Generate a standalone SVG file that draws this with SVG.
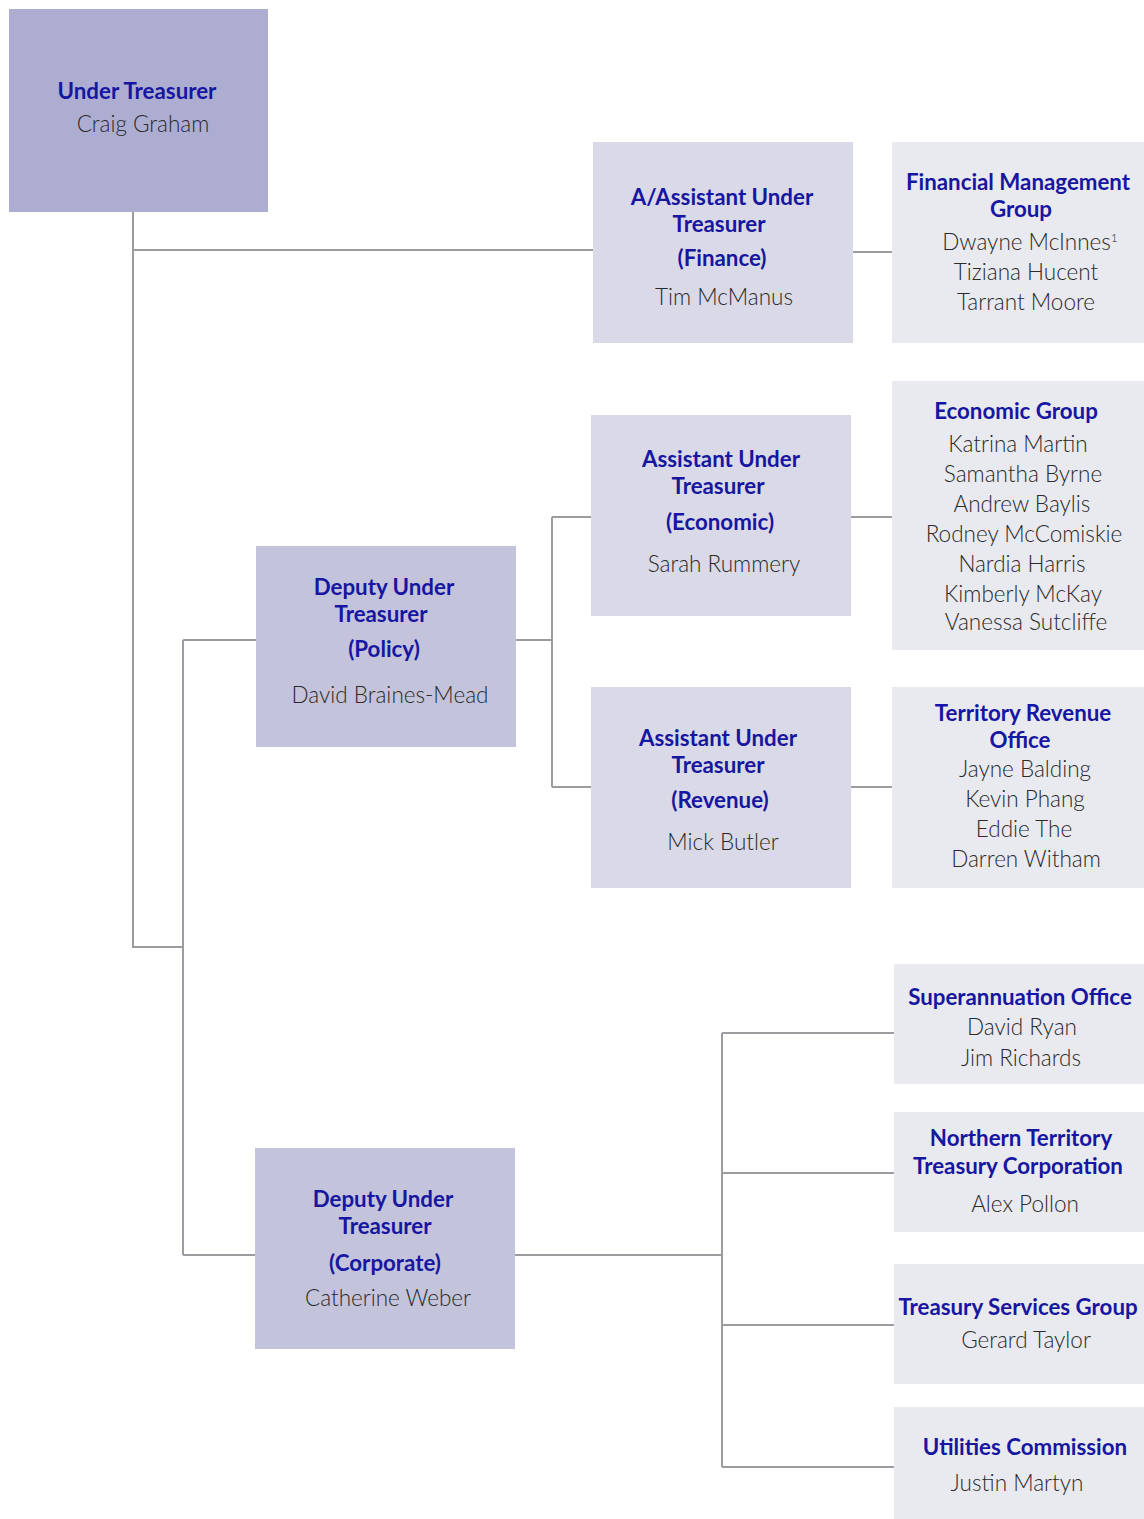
<svg xmlns="http://www.w3.org/2000/svg" width="1144" height="1519" viewBox="0 0 1144 1519">
<style>
.l1{fill:#ACADD0}.l2{fill:#C3C3DC}.l3{fill:#D9D9E7}.l4{fill:#E9E9F0}
text{font-family:Lato,"Noto Sans",sans-serif;text-anchor:middle}
.t{font-size:22.3px;font-weight:700;fill:#1616A0}
.n{font-size:22.5px;font-weight:300;fill:#2A2A2A}
#connectors path{fill:none;stroke:#9C9CA0;stroke-width:2}
</style>
<rect width="1144" height="1519" fill="#FFFFFF"/>
<g id="connectors">
<path d="M133 212V947H183"/>
<path d="M133 250H593"/>
<path d="M853 252H892"/>
<path d="M183 640V1255"/>
<path d="M183 640H256"/>
<path d="M516 640H552"/>
<path d="M552 517V787"/>
<path d="M552 517H591M552 787H591"/>
<path d="M851 517H892M851 787H892"/>
<path d="M183 1255H255"/>
<path d="M515 1255H722"/>
<path d="M722 1033V1467"/>
<path d="M722 1033H894M722 1173H894M722 1325H894M722 1467H894"/>
</g>
<g id="under-treasurer">
<rect class="l1" x="9" y="9" width="259" height="203"/>
<text class="t" x="137" y="99">Under Treasurer</text>
<text class="n" x="143" y="132">Craig Graham</text>
</g>
<g id="aut-finance">
<rect class="l3" x="593" y="142" width="260" height="201"/>
<text class="t" x="722" y="205">A/Assistant Under</text>
<text class="t" x="719" y="232">Treasurer</text>
<text class="t" x="722" y="266">(Finance)</text>
<text class="n" x="724" y="305">Tim McManus</text>
</g>
<g id="financial-management-group">
<rect class="l4" x="892" y="142" width="252" height="201"/>
<text class="t" x="1018" y="190">Financial Management</text>
<text class="t" x="1021" y="217">Group</text>
<text class="n" x="1030" y="250">Dwayne McInnes<tspan font-size="12" dy="-8">1</tspan></text>
<text class="n" x="1026" y="280">Tiziana Hucent</text>
<text class="n" x="1026" y="310">Tarrant Moore</text>
</g>
<g id="dut-policy">
<rect class="l2" x="256" y="546" width="260" height="201"/>
<text class="t" x="384" y="595">Deputy Under</text>
<text class="t" x="381" y="622">Treasurer</text>
<text class="t" x="384" y="657">(Policy)</text>
<text class="n" x="390" y="703">David Braines-Mead</text>
</g>
<g id="aut-economic">
<rect class="l3" x="591" y="415" width="260" height="201"/>
<text class="t" x="721" y="467">Assistant Under</text>
<text class="t" x="718" y="494">Treasurer</text>
<text class="t" x="720" y="530">(Economic)</text>
<text class="n" x="724" y="572">Sarah Rummery</text>
</g>
<g id="economic-group">
<rect class="l4" x="892" y="381" width="252" height="269"/>
<text class="t" x="1016" y="419">Economic Group</text>
<text class="n" x="1018" y="452">Katrina Martin</text>
<text class="n" x="1023" y="482">Samantha Byrne</text>
<text class="n" x="1022" y="512">Andrew Baylis</text>
<text class="n" x="1024" y="542">Rodney McComiskie</text>
<text class="n" x="1022" y="572">Nardia Harris</text>
<text class="n" x="1023" y="602">Kimberly McKay</text>
<text class="n" x="1026" y="630">Vanessa Sutcliffe</text>
</g>
<g id="aut-revenue">
<rect class="l3" x="591" y="687" width="260" height="201"/>
<text class="t" x="718" y="746">Assistant Under</text>
<text class="t" x="718" y="773">Treasurer</text>
<text class="t" x="720" y="808">(Revenue)</text>
<text class="n" x="723" y="850">Mick Butler</text>
</g>
<g id="territory-revenue-office">
<rect class="l4" x="892" y="687" width="252" height="201"/>
<text class="t" x="1023" y="721">Territory Revenue</text>
<text class="t" x="1020" y="748">Office</text>
<text class="n" x="1025" y="777">Jayne Balding</text>
<text class="n" x="1025" y="807">Kevin Phang</text>
<text class="n" x="1024" y="837">Eddie The</text>
<text class="n" x="1026" y="867">Darren Witham</text>
</g>
<g id="dut-corporate">
<rect class="l2" x="255" y="1148" width="260" height="201"/>
<text class="t" x="383" y="1207">Deputy Under</text>
<text class="t" x="385" y="1234">Treasurer</text>
<text class="t" x="385" y="1271">(Corporate)</text>
<text class="n" x="388" y="1306">Catherine Weber</text>
</g>
<g id="superannuation-office">
<rect class="l4" x="894" y="964" width="250" height="120"/>
<text class="t" x="1020" y="1005">Superannuation Office</text>
<text class="n" x="1022" y="1035">David Ryan</text>
<text class="n" x="1021" y="1066">Jim Richards</text>
</g>
<g id="nt-treasury-corporation">
<rect class="l4" x="894" y="1112" width="250" height="120"/>
<text class="t" x="1021" y="1146">Northern Territory</text>
<text class="t" x="1018" y="1174">Treasury Corporation</text>
<text class="n" x="1025" y="1212">Alex Pollon</text>
</g>
<g id="treasury-services-group">
<rect class="l4" x="894" y="1264" width="250" height="120"/>
<text class="t" x="1018" y="1315">Treasury Services Group</text>
<text class="n" x="1026" y="1348">Gerard Taylor</text>
</g>
<g id="utilities-commission">
<rect class="l4" x="894" y="1407" width="250" height="112"/>
<text class="t" x="1025" y="1455">Utilities Commission</text>
<text class="n" x="1017" y="1491">Justin Martyn</text>
</g>
</svg>
